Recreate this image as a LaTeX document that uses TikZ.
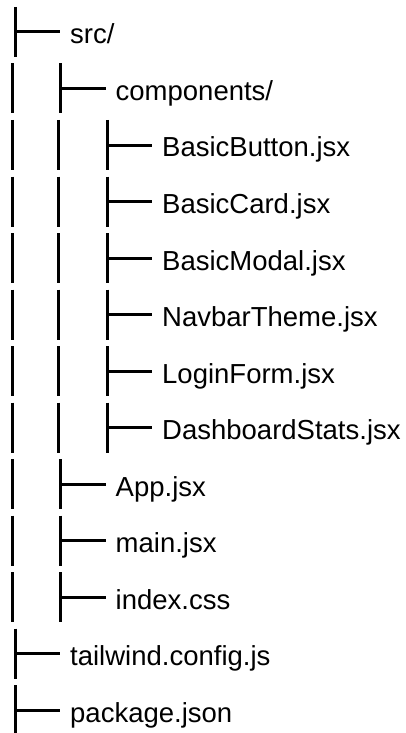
\documentclass[tikz,border=0pt]{standalone}
\usepackage{fontspec}
\setmainfont{Liberation Sans}
\newcommand\treerow[3]{%
  \pgfmathsetmacro\ry{32+56.5*#1}%
  \pgfmathsetmacro\rx{{15,60.5,107}[#2]}%
  \ifnum#2>0 \draw[bar] (12.5,\ry-25) -- (12.5,\ry+25);\fi
  \ifnum#2>1 \draw[bar] (58,\ry-25) -- (58,\ry+25);\fi
  \coordinate (t#1) at (\rx,\ry);
  \draw[bar] (\rx,\ry-25) -- (\rx,\ry+25);
  \node[lbl] (n#1) at (\rx+55,\ry+12) {#3};
  \draw[bar] (t#1) -- ++(45,0);
}
\begin{document}
\begin{tikzpicture}[x=1pt,y=-1pt,
  bar/.style={line width=3pt, black},
  lbl/.style={anchor=base west, inner sep=0pt, font=\fontsize{27.5}{33}\selectfont}]
\useasboundingbox (0,0) rectangle (406,733);
\treerow{0}{0}{src/}
\treerow{1}{1}{components/}
\treerow{2}{2}{BasicButton.jsx}
\treerow{3}{2}{BasicCard.jsx}
\treerow{4}{2}{BasicModal.jsx}
\treerow{5}{2}{NavbarTheme.jsx}
\treerow{6}{2}{LoginForm.jsx}
\treerow{7}{2}{DashboardStats.jsx}
\treerow{8}{1}{App.jsx}
\treerow{9}{1}{main.jsx}
\treerow{10}{1}{index.css}
\treerow{11}{0}{tailwind.config.js}
\treerow{12}{0}{package.json}
\end{tikzpicture}
\end{document}
